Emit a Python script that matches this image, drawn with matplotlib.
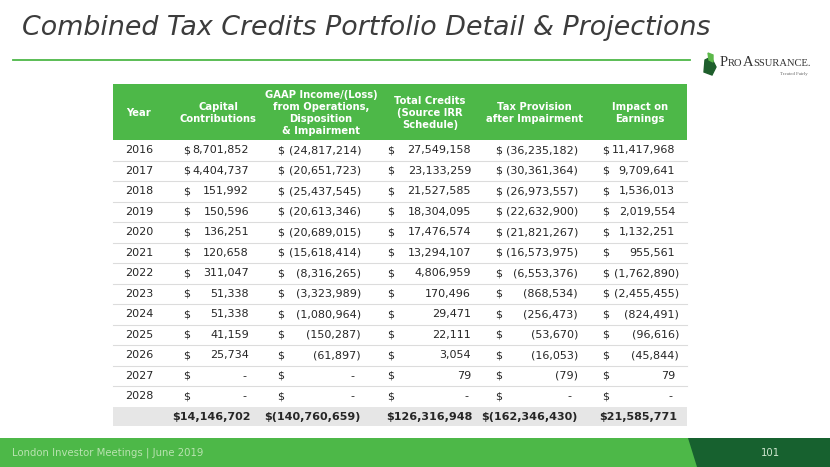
import matplotlib
matplotlib.use("Agg")
import matplotlib.pyplot as plt
from matplotlib.patches import Rectangle, Polygon

years = [2016, 2017, 2018, 2019, 2020, 2021, 2022, 2023, 2024, 2025, 2026, 2027, 2028]
capital = [8701852, 4404737, 151992, 150596, 136251, 120658, 311047, 51338, 51338, 41159, 25734, 0, 0]
gaap = [-24817214, -20651723, -25437545, -20613346, -20689015, -15618414, -8316265,
        -3323989, -1080964, -150287, -61897, 0, 0]
credits = [27549158, 23133259, 21527585, 18304095, 17476574, 13294107, 4806959,
           170496, 29471, 22111, 3054, 79, 0]
tax_provision = [-36235182, -30361364, -26973557, -22632900, -21821267, -16573975, -6553376,
                 -868534, -256473, -53670, -16053, -79, 0]
impact = [11417968, 9709641, 1536013, 2019554, 1132251, 955561, -1762890,
          -2455455, -824491, -96616, -45844, 79, 0]
totals = [14146702, -140760659, 126316948, -162346430, 21585771]

headers = ["Year", "Capital\nContributions",
           "GAAP Income/(Loss)\nfrom Operations,\nDisposition\n& Impairment",
           "Total Credits\n(Source IRR\nSchedule)", "Tax Provision\nafter Impairment",
           "Impact on\nEarnings"]

title = "Combined Tax Credits Portfolio Detail & Projections"
footer = "London Investor Meetings | June 2019"
page = "101"

GREEN = "#4db848"
DARK_GREEN = "#17612f"
TEXT = "#262626"


def fmt(v):
    if v == 0:
        return "-"
    if v < 0:
        return f"({abs(v):,})"
    return f"{v:,}"


def fmt_total(v):
    if v < 0:
        return f"$({abs(v):,})"
    return f"${v:,}"


fig = plt.figure(figsize=(8.3, 4.67), dpi=100)
ax = fig.add_axes([0, 0, 1, 1])
ax.set_xlim(0, 830)
ax.set_ylim(467, 0)
ax.axis("off")

# title + rule
ax.text(22, 28, title, fontsize=19.4, style="italic", color="#3c3c3c",
        ha="left", va="center", family="DejaVu Sans")
ax.plot([13, 690], [60, 60], color=GREEN, lw=1.3)

# logo
ax.add_patch(Polygon([(705, 60), (711, 57), (716, 67), (712, 75), (704, 72)],
                     closed=True, color="#1e5e2c"))
ax.add_patch(Polygon([(708, 53), (713, 55), (713, 62), (709, 60)], closed=True, color="#5cb84a"))
renderer = fig.canvas.get_renderer()
x = 720
for part, size in [("P", 10.5), ("RO", 7.6), ("A", 10.5), ("SSURANCE.", 7.6)]:
    t = ax.text(x, 65.5, part, fontsize=size, family="Liberation Serif", color="#333333",
                ha="left", va="baseline")
    bb = t.get_window_extent(renderer)
    x += bb.width * 830 / fig.bbox.width
ax.text(808, 74.5, "Treated Fairly", fontsize=3.5, family="Liberation Serif", color="#666666",
        ha="right", va="center")

# header band
left, right = 113, 687
head_top, head_bot = 84, 140
ax.add_patch(Rectangle((left, head_top), right - left, head_bot - head_top, color=GREEN, lw=0))
head_x = [139, 218, 321, 430, 534, 640]
for hx, h in zip(head_x, headers):
    ax.text(hx, (head_top + head_bot) / 2 + 1, h, color="white", fontsize=7.2, fontweight="bold",
            ha="center", va="center", linespacing=1.25, multialignment="center")

# body rows
pitch = 20.5
dollar_x = [183, 277, 387, 495, 602]
right_x = [253, 361, 475, 578, 679]
columns = [capital, gaap, credits, tax_provision, impact]
for i, yr in enumerate(years):
    yc = head_bot + pitch * (i + 0.5)
    ax.text(139, yc, str(yr), fontsize=8, color=TEXT, ha="center", va="center")
    for c, col in enumerate(columns):
        v = col[i]
        ax.text(dollar_x[c], yc, "$", fontsize=8, color=TEXT, ha="left", va="center")
        if v < 0:
            xr = right_x[c]
        elif v == 0:
            xr = right_x[c] - 7
        else:
            xr = right_x[c] - 4
        ax.text(xr, yc, fmt(v), fontsize=8, color=TEXT, ha="right", va="center")
    yb = head_bot + pitch * (i + 1)
    if i < len(years) - 1:
        ax.plot([left, right], [yb, yb], color="#dcdcdc", lw=0.8)

# totals row
tot_top = head_bot + pitch * len(years) + 0.5
ax.add_patch(Rectangle((left, tot_top), right - left, 18.5, color="#e6e6e6", lw=0))
for c, v in enumerate(totals):
    xr = right_x[c] if v < 0 else right_x[c] - 2
    ax.text(xr, tot_top + 9.5, fmt_total(v), fontsize=8, fontweight="bold", color=TEXT,
            ha="right", va="center")

# footer
ax.add_patch(Rectangle((0, 438), 830, 29, color=GREEN, lw=0))
ax.add_patch(Polygon([(688, 438), (830, 438), (830, 467), (697, 467)], closed=True,
                     color=DARK_GREEN, lw=0))
ax.text(12, 453, footer, fontsize=7.3, color="#b9e3b0", ha="left", va="center")
ax.text(770, 453, page, fontsize=7.3, color="#d0e8d0", ha="center", va="center")

fig.savefig("out.png", dpi=100)
